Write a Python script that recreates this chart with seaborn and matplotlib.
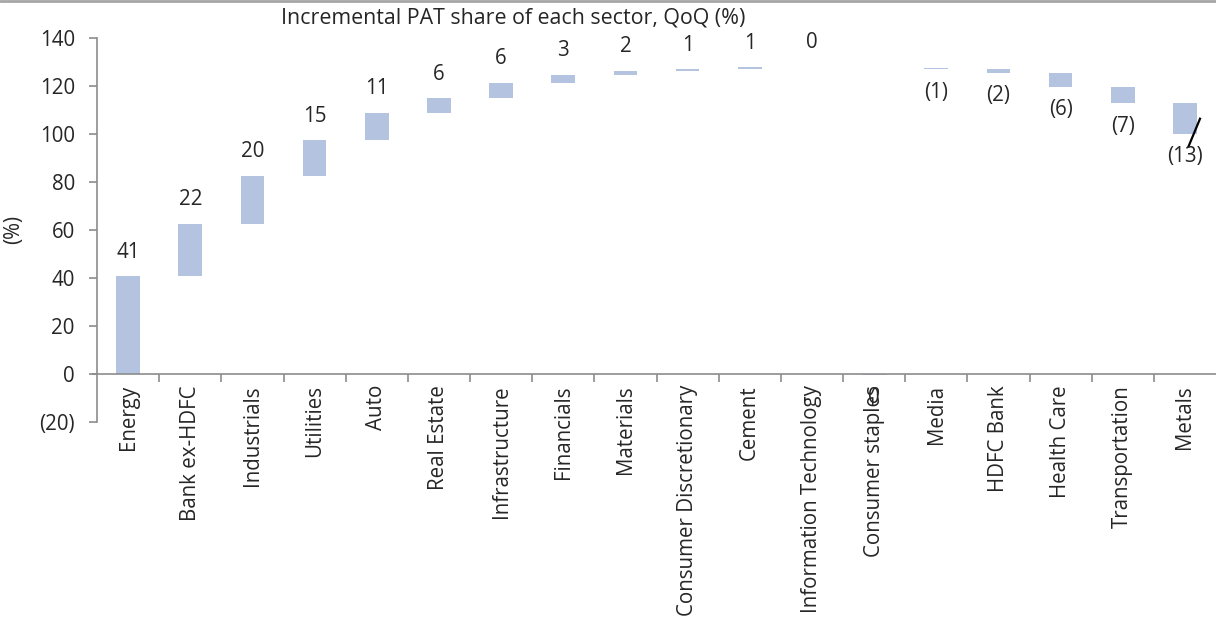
import matplotlib
matplotlib.use("Agg")
import matplotlib.pyplot as plt
import matplotlib.ticker as mticker
import numpy as np
import pandas as pd
import seaborn as sns

# Sector contributions to the QoQ change in PAT (%)
sectors = [
    "Energy", "Bank ex-HDFC", "Industrials", "Utilities", "Auto", "Real Estate",
    "Infrastructure", "Financials", "Materials", "Consumer Discretionary", "Cement",
    "Information Technology", "Consumer staples", "Media", "HDFC Bank",
    "Health Care", "Transportation", "Metals",
]
share = [40.7, 22.0, 20.0, 14.8, 11.3, 6.2, 6.3, 3.3, 1.7, 0.7, 0.8, 0.2,
         -0.3, -0.7, -1.5, -5.8, -6.8, -12.8]
# bars drawn from the zero line instead of floating on the running total
anchored_at_zero = ["Consumer staples"]

y_ticks = [-20, 0, 20, 40, 60, 80, 100, 120, 140]
title = "Incremental PAT share of each sector, QoQ (%)"
y_label = "(%)"

# running totals give each floating bar its base
base = []
running = 0.0
for s, v in zip(sectors, share):
    base.append(0.0 if s in anchored_at_zero else running)
    running += v

df = pd.DataFrame({"sector": sectors, "share": share, "base": base})

sns.set_theme(style="white")
plt.rcParams["font.family"] = ["Open Sans", "DejaVu Sans"]
FS = 14.8
TXT = "#262626"
GRID = "#8c8c8c"
BAR = "#b3c3e0"

fig = plt.figure(figsize=(12.16, 6.18), dpi=100)
ax = fig.add_axes([97 / 1216, 1 - 422 / 618, 1 - 97 / 1216, (422 - 38) / 618])

sns.barplot(data=df, x="sector", y="share", bottom=df["base"].to_numpy(),
            color=BAR, width=0.38, saturation=1, ax=ax, linewidth=0)

ax.set_ylim(-20, 140)
ax.set_xlim(-0.5, len(sectors) - 0.5)
ax.set_yticks(y_ticks)
ax.yaxis.set_major_formatter(mticker.FuncFormatter(
    lambda v, _: f"({abs(int(v))})" if v < 0 else f"{int(v)}"))

for side in ("top", "right"):
    ax.spines[side].set_visible(False)
ax.spines["left"].set_color(GRID)
ax.spines["left"].set_linewidth(1.2)
ax.spines["bottom"].set_position(("data", 0))
ax.spines["bottom"].set_color(GRID)
ax.spines["bottom"].set_linewidth(1.2)
ax.spines["bottom"].set_bounds(-0.57, len(sectors) - 0.5)

ax.tick_params(axis="y", which="major", direction="out", length=6, width=1.2,
               color=GRID, labelsize=FS, labelcolor=TXT, left=True, pad=10)
ax.tick_params(axis="x", which="major", length=0, labelsize=FS, labelcolor=TXT,
               pad=8, bottom=True)
ax.set_xticks(range(len(sectors)))
ax.set_xticklabels(sectors, rotation=90, va="top", ha="center")
ax.set_xticks(np.arange(len(sectors) - 1) + 0.5, minor=True)
ax.tick_params(axis="x", which="minor", direction="out", length=6, width=1.2,
               color=GRID, bottom=True)

ax.set_xlabel("")
ax.set_ylabel(y_label, fontsize=FS, color=TXT)
ax.yaxis.set_label_coords(-0.0652, 0.5)

# value labels above rising bars, below falling ones
for i, (v, b) in enumerate(zip(share, base)):
    r = int(round(abs(v)))
    if v >= 0:
        txt, y, dy = f"{r}", b + v, 24
    else:
        txt = f"({r})" if r != 0 else "0"
        y, dy = b + v, -23
    ax.annotate(txt, (i, y), xytext=(0, dy), textcoords="offset pixels",
                ha="center", va="center", fontsize=FS, color=TXT)

# short leader stroke on the last bar
ax.plot([17.05, 17.25], [94.3, 106.8], color="black", lw=1.6, solid_capstyle="butt")

fig.text(513 / 1216, 1 - 18 / 618, title, ha="center", va="center",
         fontsize=15.4, color=TXT)
fig.add_artist(plt.Line2D([0, 1], [0.999, 0.999], color="#a6a6a6", lw=2,
                          transform=fig.transFigure))

fig.savefig("out.png", dpi=100, facecolor="white")
